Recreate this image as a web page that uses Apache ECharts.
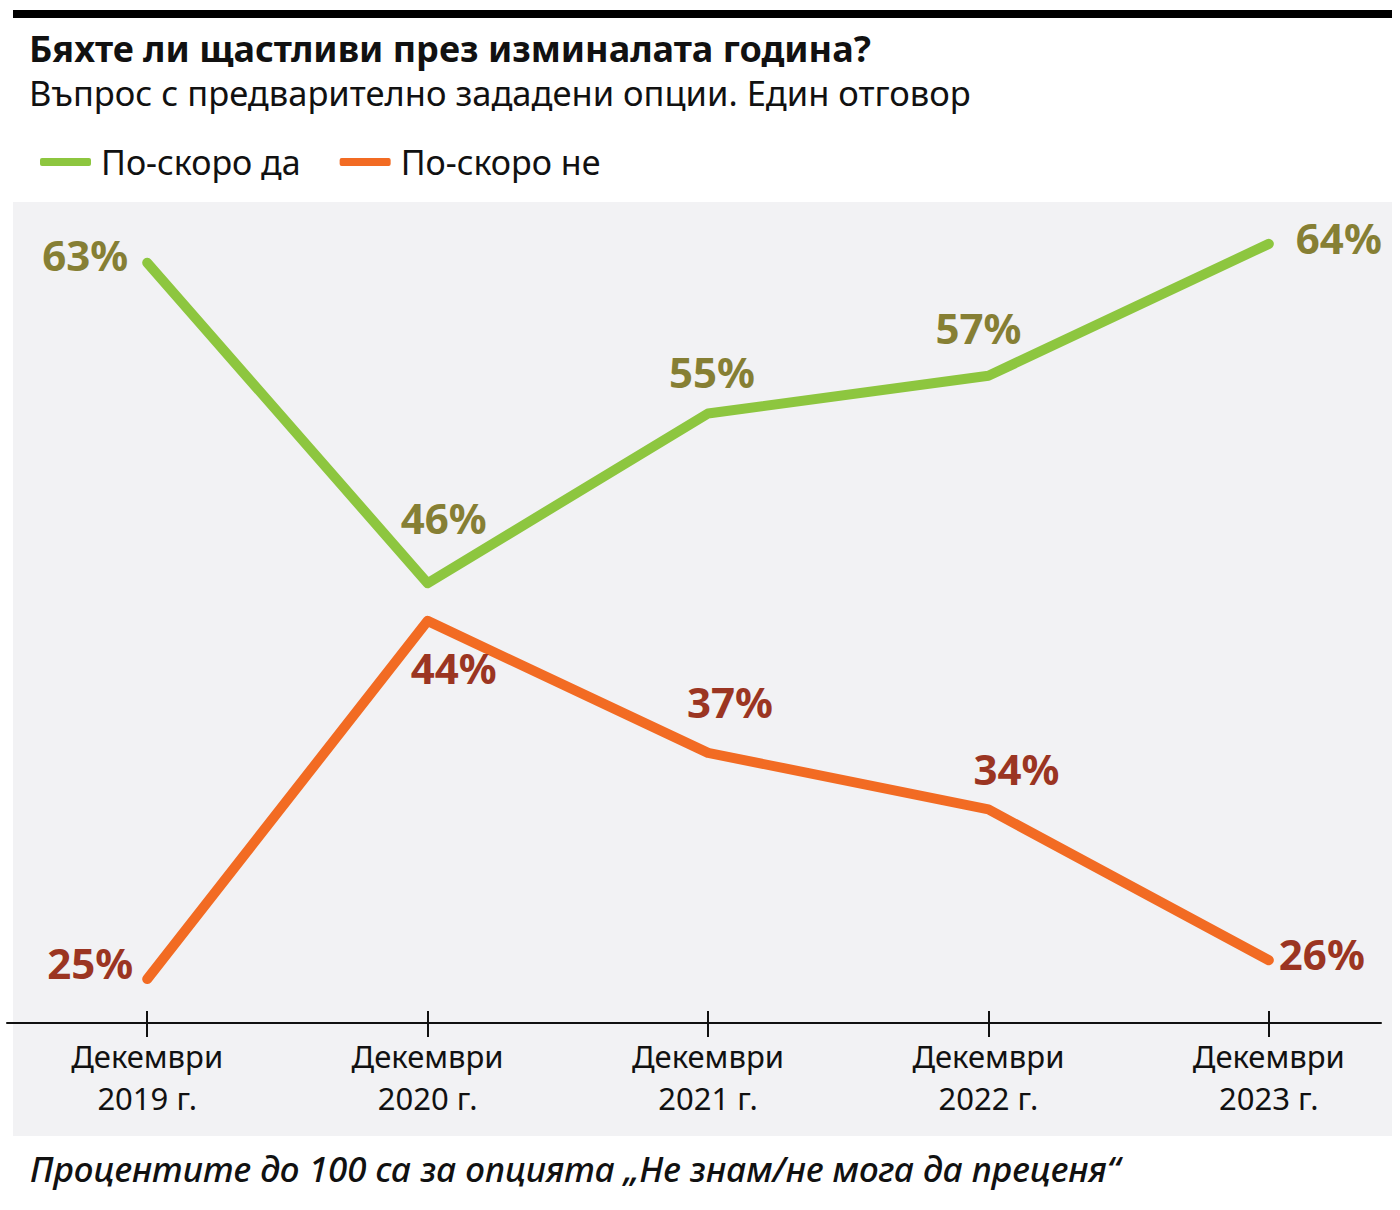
<!DOCTYPE html>
<html>
<head>
<meta charset="utf-8">
<script src="https://cdn.jsdelivr.net/npm/echarts@6/dist/echarts.min.js"></script>
<style>
  html, body { margin: 0; padding: 0; background: #fff; }
  #chart { width: 1400px; height: 1210px; }
</style>
</head>
<body>
<div id="chart"></div>
<script>
(function() {
  var categories = ['Декември\n2019 г.', 'Декември\n2020 г.', 'Декември\n2021 г.', 'Декември\n2022 г.', 'Декември\n2023 г.'];
  var yesName = 'По-скоро да';
  var noName = 'По-скоро не';
  var yesValues = [63, 46, 55, 57, 64];
  var noValues = [25, 44, 37, 34, 26];

  // label placement per point: [dx, dy, align]
  var yesPlace = [[-19, -8, 'right'], [16, -66, 'center'], [4, -42, 'center'], [-10, -48, 'center'], [27, -6, 'left']];
  var noPlace = [[-14, -17, 'right'], [26, 47, 'center'], [22, -51, 'center'], [28, -41, 'center'], [10, -7, 'left']];

  var font = '"Noto Sans", sans-serif';
  var green = '#8dc63f';
  var orange = '#f26b23';
  var greenText = '#867f34';
  var orangeText = '#9b3522';
  var ink = '#111';

  function points(values, place, color) {
    return values.map(function(v, i) {
      var p = place[i];
      return {
        value: [i, v],
        label: { offset: [p[0], p[1]], align: p[2], color: color }
      };
    });
  }

  var ticks = categories.map(function(c, i) { return i; });

  var chart = echarts.init(document.getElementById('chart'), null, { renderer: 'svg' });
  chart.setOption({
    animation: false,
    textStyle: { fontFamily: font },
    graphic: [
      { type: 'rect', shape: { x: 13, y: 10, width: 1379, height: 8 }, style: { fill: '#000' }, z: -1 },
      { type: 'rect', shape: { x: 13, y: 202, width: 1379, height: 934 }, style: { fill: '#f2f2f4' }, z: -1 },
      { type: 'text', left: 30, top: 1151, style: { text: 'Процентите до 100 са за опцията „Не знам/не мога да преценя“', fontFamily: font, fontSize: 35, fontStyle: 'italic', fontWeight: 500, fill: ink } }
    ],
    title: {
      text: 'Бяхте ли щастливи през изминалата година?',
      subtext: 'Въпрос с предварително зададени опции. Един отговор',
      left: 24,
      top: 25,
      itemGap: 9,
      textStyle: { fontFamily: font, fontSize: 36, fontWeight: 'bold', color: ink },
      subtextStyle: { fontFamily: font, fontSize: 34.5, color: ink }
    },
    legend: {
      left: 35,
      top: 140,
      icon: 'roundRect',
      itemWidth: 51,
      itemHeight: 8,
      itemGap: 39,
      textStyle: { fontFamily: font, fontSize: 34, color: ink, padding: [0, 0, 0, 5] },
      data: [yesName, noName]
    },
    grid: { left: 7, right: 19, top: 225, bottom: 187 },
    xAxis: [
      {
        type: 'value',
        min: -0.5,
        max: 4.4,
        splitLine: { show: false },
        axisLine: { show: true, lineStyle: { color: ink, width: 2 } },
        axisTick: { show: true, customValues: ticks, length: 14, lineStyle: { color: ink, width: 2 } },
        axisLabel: {
          customValues: ticks,
          formatter: function(v) { return categories[Math.round(v)]; },
          color: ink,
          fontFamily: font,
          fontSize: 31,
          lineHeight: 42,
          margin: 12
        }
      },
      {
        type: 'value',
        position: 'bottom',
        min: -0.5,
        max: 4.4,
        splitLine: { show: false },
        axisLine: { show: false },
        axisTick: { show: true, inside: true, customValues: ticks, length: 12, lineStyle: { color: ink, width: 2 } },
        axisLabel: { show: false }
      }
    ],
    yAxis: {
      type: 'value',
      min: 22.67,
      max: 65,
      show: false,
      splitLine: { show: false }
    },
    series: [
      {
        name: yesName,
        type: 'line',
        data: points(yesValues, yesPlace, greenText),
        symbol: 'circle',
        symbolSize: 1,
        itemStyle: { color: green },
        lineStyle: { color: green, width: 10, cap: 'round', join: 'round' },
        label: {
          show: true,
          position: 'inside',
          fontFamily: font,
          fontSize: 42,
          fontWeight: 'bold',
          verticalAlign: 'middle',
          formatter: function(p) { return p.value[1] + '%'; }
        }
      },
      {
        name: noName,
        type: 'line',
        data: points(noValues, noPlace, orangeText),
        symbol: 'circle',
        symbolSize: 1,
        itemStyle: { color: orange },
        lineStyle: { color: orange, width: 10, cap: 'round', join: 'round' },
        label: {
          show: true,
          position: 'inside',
          fontFamily: font,
          fontSize: 42,
          fontWeight: 'bold',
          verticalAlign: 'middle',
          formatter: function(p) { return p.value[1] + '%'; }
        }
      }
    ]
  });
  window.addEventListener('resize', function() { chart.resize(); });
})();
</script>
</body>
</html>
